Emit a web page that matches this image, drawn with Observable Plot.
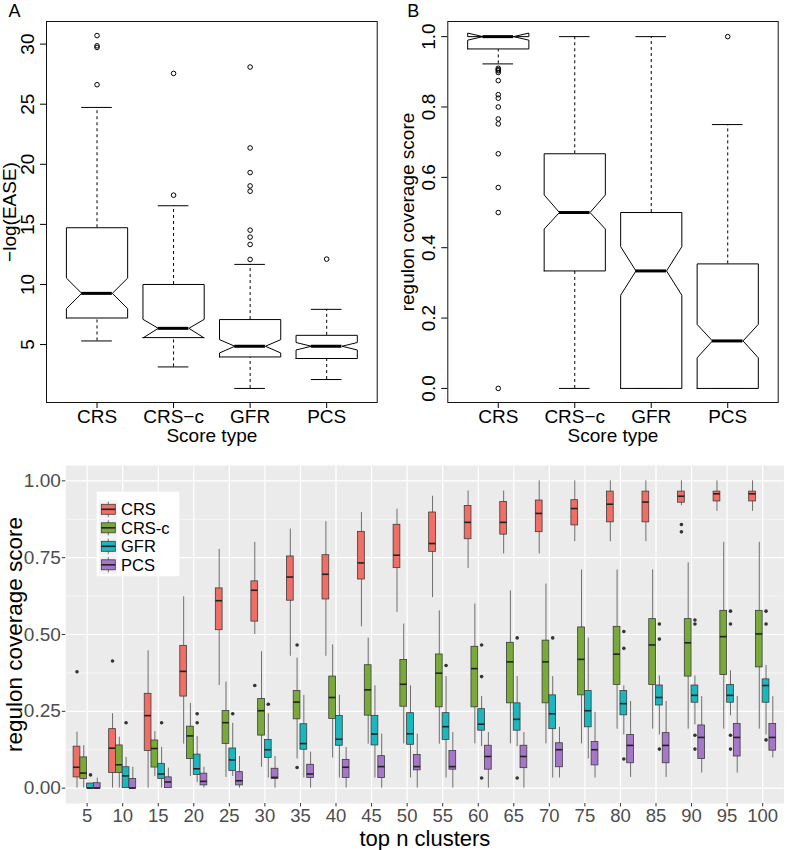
<!DOCTYPE html>
<html><head><meta charset="utf-8">
<script src="https://cdn.jsdelivr.net/npm/d3@7"></script>
<script src="https://cdn.jsdelivr.net/npm/@observablehq/plot@0.6"></script>
<style>
body{margin:0;background:#fff;}
#root{position:relative;width:787px;height:850px;overflow:hidden;background:#fff;font-family:"Liberation Sans",Arial,Helvetica,sans-serif;}
#root svg{position:absolute;}
</style></head><body><div id="root"></div>
<script>
// ---------- shared ----------
const scoreTypes = ["CRS", "CRS\u2212c", "GFR", "PCS"];

// ---------- Panel A: -log(EASE) ----------
const aLow     = [5.30, 3.14, 1.35, 2.09];
const aQ1      = [7.21, 5.58, 3.97, 3.84];
const aNotchLo = [7.99, 5.55, 4.30, 4.55];
const aMedian  = [9.26, 6.35, 4.86, 4.86];
const aNotchHi = [10.53, 7.10, 5.41, 5.17];
const aQ3      = [14.72, 10.0, 7.08, 5.77];
const aHigh    = [24.73, 16.55, 11.67, 7.93];
const aOutliers = [
  [1, 30.71], [1, 29.86], [1, 29.72], [1, 26.62],
  [2, 27.56], [2, 17.43],
  [3, 28.09], [3, 21.36], [3, 19.31], [3, 18.20], [3, 17.76], [3, 14.52], [3, 13.94], [3, 13.33], [3, 12.08],
  [4, 12.11]
];
const aTicks = [5, 10, 15, 20, 25, 30];
const aTickLabels = ["5", "10", "15", "20", "25", "30"];

// ---------- Panel B: regulon coverage score ----------
const bLow     = [0.9225, 0.0, 0.0, 0.0];
const bQ1      = [0.965, 0.334, 0.0, 0.0];
const bNotchLo = [0.99, 0.453, 0.265, 0.087];
const bMedian  = [1.0, 0.5, 0.334, 0.135];
const bNotchHi = [1.01, 0.55, 0.403, 0.182];
const bQ3      = [1.0, 0.667, 0.5, 0.354];
const bHigh    = [1.0, 1.0, 1.0, 0.75];
const bOutliers = [
  [1, 0.910], [1, 0.906], [1, 0.903], [1, 0.898], [1, 0.875], [1, 0.835], [1, 0.825],
  [1, 0.80], [1, 0.766], [1, 0.752], [1, 0.667], [1, 0.571], [1, 0.5], [1, 0.0],
  [4, 1.0]
];
const bTicks = [0, 0.2, 0.4, 0.6, 0.8, 1.0];
const bTickLabels = ["0.0", "0.2", "0.4", "0.6", "0.8", "1.0"];

// ---------- Panel C: by top n clusters ----------
const clusters = ["5","10","15","20","25","30","35","40","45","50","55","60","65","70","75","80","85","90","95","100"];
const groups = ["CRS", "CRS-c", "GFR", "PCS"];
const groupColors = ["#EF6F66", "#78A939", "#1AB8BE", "#A676C8"];
// each row: [lower whisker, Q1, median, Q3, upper whisker]
const crsStats = [
  [0, 0.035, 0.068, 0.135, 0.182], [0, 0.049, 0.13, 0.192, 0.242], [0, 0.121, 0.236, 0.307, 0.447],
  [0.143, 0.298, 0.38, 0.463, 0.623], [0.334, 0.514, 0.61, 0.65, 0.777], [0.50, 0.542, 0.644, 0.673, 0.80],
  [0.429, 0.61, 0.687, 0.754, 0.843], [0.429, 0.614, 0.696, 0.758, 0.867], [0.525, 0.679, 0.733, 0.834, 0.897],
  [0.572, 0.716, 0.758, 0.857, 0.908], [0.62, 0.769, 0.796, 0.897, 0.95], [0.715, 0.81, 0.865, 0.918, 0.967],
  [0.762, 0.825, 0.865, 0.931, 0.967], [0.762, 0.833, 0.894, 0.936, 1.0], [0.802, 0.855, 0.91, 0.937, 1.0],
  [0.802, 0.865, 0.924, 0.965, 1.0], [0.802, 0.865, 0.931, 0.965, 1.0], [0.919, 0.929, 0.95, 0.965, 1.0],
  [0.901, 0.933, 0.958, 0.965, 1.0], [0.901, 0.933, 0.958, 0.965, 1.0]
];
const crscStats = [
  [0, 0.03, 0.049, 0.10, 0.138], [0, 0.049, 0.076, 0.139, 0.166], [0.038, 0.067, 0.129, 0.155, 0.184],
  [0.038, 0.095, 0.17, 0.20, 0.276], [0.035, 0.144, 0.213, 0.251, 0.345], [0.068, 0.171, 0.252, 0.29, 0.444],
  [0.095, 0.224, 0.28, 0.316, 0.423], [0.098, 0.225, 0.295, 0.363, 0.466], [0.143, 0.236, 0.32, 0.40, 0.488],
  [0.144, 0.265, 0.338, 0.417, 0.534], [0.143, 0.263, 0.374, 0.435, 0.577], [0.144, 0.263, 0.389, 0.46, 0.599],
  [0.144, 0.276, 0.411, 0.473, 0.642], [0.144, 0.276, 0.411, 0.48, 0.664], [0.144, 0.302, 0.419, 0.523, 0.71],
  [0.192, 0.336, 0.436, 0.525, 0.71], [0.192, 0.336, 0.466, 0.55, 0.71], [0.192, 0.363, 0.473, 0.55, 0.733],
  [0.192, 0.368, 0.493, 0.577, 0.80], [0.192, 0.393, 0.502, 0.577, 0.80]
];
const gfrStats = [
  [0, 0, 0, 0.015, 0.015], [0, 0, 0.04, 0.068, 0.10], [0, 0.03, 0.046, 0.079, 0.133],
  [0.018, 0.043, 0.063, 0.109, 0.168], [0.038, 0.056, 0.092, 0.129, 0.211], [0.033, 0.098, 0.125, 0.157, 0.242],
  [0.033, 0.125, 0.145, 0.208, 0.302], [0.033, 0.138, 0.159, 0.235, 0.302], [0.033, 0.139, 0.176, 0.235, 0.333],
  [0.033, 0.141, 0.177, 0.244, 0.333], [0.033, 0.157, 0.20, 0.244, 0.363], [0.135, 0.187, 0.208, 0.257, 0.298],
  [0.135, 0.187, 0.224, 0.276, 0.363], [0.033, 0.192, 0.242, 0.302, 0.363], [0.095, 0.198, 0.252, 0.316, 0.488],
  [0.173, 0.237, 0.275, 0.316, 0.333], [0.173, 0.269, 0.295, 0.334, 0.365], [0.206, 0.278, 0.302, 0.334, 0.365],
  [0.235, 0.278, 0.302, 0.336, 0.382], [0.173, 0.278, 0.334, 0.354, 0.399]
];
const pcsStats = [
  [0, 0, 0, 0.016, 0.033], [0, 0, 0, 0.03, 0.068], [0, 0, 0.02, 0.035, 0.065],
  [0, 0.009, 0.022, 0.047, 0.068], [0, 0.009, 0.024, 0.052, 0.103], [0, 0.03, 0.035, 0.063, 0.103],
  [0, 0.033, 0.046, 0.076, 0.117], [0, 0.033, 0.068, 0.092, 0.132], [0, 0.033, 0.07, 0.104, 0.176],
  [0, 0.058, 0.07, 0.108, 0.176], [0, 0.06, 0.07, 0.121, 0.181], [0, 0.06, 0.103, 0.138, 0.181],
  [0, 0.065, 0.103, 0.138, 0.181], [0.033, 0.068, 0.125, 0.146, 0.198], [0.033, 0.074, 0.125, 0.15, 0.247],
  [0.035, 0.081, 0.139, 0.173, 0.282], [0.035, 0.081, 0.139, 0.179, 0.282], [0.049, 0.095, 0.165, 0.204, 0.298],
  [0.049, 0.103, 0.165, 0.209, 0.298], [0.098, 0.122, 0.165, 0.209, 0.298]
];
// outliers: [cluster, value]
const crsOut = [["5", 0.379], ["10", 0.414], ["30", 0.334], ["90", 0.858], ["90", 0.834]];
const crscOut = [["35", 0.466], ["35", 0.067]];
const gfrOut = [
  ["5", 0.043], ["10", 0.213], ["15", 0.213], ["20", 0.242], ["20", 0.213], ["25", 0.242], ["30", 0.273],
  ["55", 0.399], ["60", 0.466], ["60", 0.363], ["60", 0.033], ["65", 0.489], ["65", 0.033], ["70", 0.489],
  ["80", 0.51], ["80", 0.455], ["80", 0.095], ["85", 0.534], ["85", 0.485], ["85", 0.127],
  ["90", 0.547], ["90", 0.534], ["90", 0.172], ["90", 0.127], ["95", 0.576], ["95", 0.534], ["95", 0.172], ["95", 0.127],
  ["100", 0.576], ["100", 0.534], ["100", 0.157]
];
const pcsOut = [];
const cTicks = [0, 0.25, 0.5, 0.75, 1.0];
const cTickLabels = ["0.00", "0.25", "0.50", "0.75", "1.00"];
const cMinor = [0.125, 0.375, 0.625, 0.875];

// ---------- drawing ----------
const FONT = '"Liberation Sans", Arial, Helvetica, sans-serif';
const root = document.getElementById("root");

function rBoxPanel(p) {
  const rows = scoreTypes.map((name, k) => ({
    i: k + 1, lo: p.low[k], q1: p.q1[k], nlo: p.nlo[k], med: p.med[k], nhi: p.nhi[k], q3: p.q3[k], hi: p.high[k]
  }));
  const shape = [[-.4, "q1"], [.4, "q1"], [.4, "nlo"], [.2, "med"], [.4, "nhi"], [.4, "q3"],
                 [-.4, "q3"], [-.4, "nhi"], [-.2, "med"], [-.4, "nlo"], [-.4, "q1"]];
  const poly = rows.flatMap(r => shape.map(([dx, key]) => ({box: r.i, px: r.i + dx, py: r[key]})));
  const svg = Plot.plot({
    width: p.width, height: 450,
    marginLeft: p.ml, marginRight: p.mr, marginTop: 21, marginBottom: 48,
    x: {domain: [0.34, 4.66]},
    y: {domain: p.yDomain},
    style: {fontFamily: FONT, fontSize: "19px", color: "black", background: "transparent", overflow: "visible"},
    marks: [
      Plot.ruleX(rows, {x: "i", y1: "q3", y2: "hi", stroke: "black", strokeWidth: 1, strokeDasharray: "3,3"}),
      Plot.ruleX(rows, {x: "i", y1: "lo", y2: "q1", stroke: "black", strokeWidth: 1, strokeDasharray: "3,3"}),
      Plot.ruleY(rows, {y: "hi", x1: d => d.i - 0.2, x2: d => d.i + 0.2, stroke: "black", strokeWidth: 1}),
      Plot.ruleY(rows, {y: "lo", x1: d => d.i - 0.2, x2: d => d.i + 0.2, stroke: "black", strokeWidth: 1}),
      Plot.line(poly, {x: "px", y: "py", z: "box", fill: "white", stroke: "black", strokeWidth: 1, strokeLinejoin: "miter", curve: "linear"}),
      Plot.ruleY(rows, {y: "med", x1: d => d.i - 0.2, x2: d => d.i + 0.2, stroke: "black", strokeWidth: 3, strokeLinecap: "butt"}),
      Plot.dot(p.outliers, {x: d => d[0], y: d => d[1], r: 2.3, stroke: "black", fill: "none", strokeWidth: 1}),
      Plot.frame({stroke: "#111", strokeWidth: 1}),
      Plot.axisX({ticks: [1, 2, 3, 4], tickFormat: i => scoreTypes[i - 1], tickSize: 6, tickPadding: 1, fontSize: 19, label: null}),
      Plot.axisY({ticks: p.ticks, tickSize: 6, tickFormat: () => "", label: null}),
      Plot.text(p.ticks, {y: d => d, text: (d, k) => p.tickLabels[k], frameAnchor: "left", rotate: -90, dx: -13, textAnchor: "middle", lineAnchor: "bottom", fontSize: 19}),
      Plot.text([p.ylab], {frameAnchor: "left", rotate: -90, dx: p.ylabDx, textAnchor: "middle", lineAnchor: "bottom", fontSize: 19}),
      Plot.text(["Score type"], {frameAnchor: "bottom", dy: 39, textAnchor: "middle", lineAnchor: "bottom", fontSize: 19}),
      Plot.text([p.letter], {frameAnchor: "top-left", dx: p.letterDx, dy: -5, textAnchor: "start", lineAnchor: "bottom", fontSize: 18})
    ]
  });
  svg.style.left = p.left + "px";
  svg.style.top = "0px";
  root.appendChild(svg);
}

rBoxPanel({
  low: aLow, q1: aQ1, nlo: aNotchLo, med: aMedian, nhi: aNotchHi, q3: aQ3, high: aHigh, outliers: aOutliers,
  yDomain: [0.18, 31.88], ticks: aTicks, tickLabels: aTickLabels, ylab: "\u2212log(EASE)", ylabDx: -31,
  letter: "A", letterDx: -38, width: 393, ml: 46, mr: 16.3, left: 0
});
rBoxPanel({
  low: bLow, q1: bQ1, nlo: bNotchLo, med: bMedian, nhi: bNotchHi, q3: bQ3, high: bHigh, outliers: bOutliers,
  yDomain: [-0.04, 1.043], ticks: bTicks, tickLabels: bTickLabels, ylab: "regulon coverage score", ylabDx: -34,
  letter: "B", letterDx: -40.5, width: 394, ml: 54.3, mr: 9.3, left: 393
});

// Panel C
const statSets = [crsStats, crscStats, gfrStats, pcsStats];
const outSets = [crsOut, crscOut, gfrOut, pcsOut];
const dodge = 0.19, half = 0.095;
const cMarks = [
  Plot.frame({fill: "#EBEBEB", stroke: "none"}),
  Plot.ruleY(cMinor, {stroke: "white", strokeWidth: 0.6}),
  Plot.ruleY(cTicks, {stroke: "white", strokeWidth: 1.2}),
  Plot.ruleX(d3.range(clusters.length), {stroke: "white", strokeWidth: 1.2})
];
groups.forEach((g, gi) => {
  const rows = statSets[gi].map((s, ci) => ({xc: ci + (gi - 1.5) * dodge, lo: s[0], q1: s[1], med: s[2], q3: s[3], hi: s[4]}));
  const outs = outSets[gi].map(([c, v]) => ({xc: clusters.indexOf(c) + (gi - 1.5) * dodge, v}));
  cMarks.push(
    Plot.ruleX(rows, {x: "xc", y1: "lo", y2: "hi", stroke: "#6f6f6f", strokeWidth: 1}),
    Plot.rect(rows, {x1: d => d.xc - half, x2: d => d.xc + half, y1: "q1", y2: "q3", fill: groupColors[gi], stroke: "#3c3c3c", strokeWidth: 0.8}),
    Plot.ruleY(rows, {y: "med", x1: d => d.xc - half, x2: d => d.xc + half, stroke: "#222", strokeWidth: 1.6}),
    Plot.dot(outs, {x: "xc", y: "v", r: 1.8, fill: "#333", stroke: "none"})
  );
});
cMarks.push(
  Plot.axisX({ticks: d3.range(clusters.length), tickFormat: k => clusters[k], tickSize: 3.5, tickPadding: 2, fontSize: 18.5, stroke: "#333", fill: "#4D4D4D", label: null}),
  Plot.axisY({ticks: cTicks, tickFormat: (d, k) => cTickLabels[k], tickSize: 3.5, tickPadding: 1.5, fontSize: 19, stroke: "#333", fill: "#4D4D4D", label: null}),
  Plot.text(["regulon coverage score"], {frameAnchor: "left", rotate: -90, dx: -43.5, textAnchor: "middle", lineAnchor: "bottom", fontSize: 22.5}),
  Plot.text(["top n clusters"], {frameAnchor: "bottom", dy: 42, textAnchor: "middle", lineAnchor: "bottom", fontSize: 22})
);
const cSvg = Plot.plot({
  width: 787, height: 400,
  marginLeft: 65.3, marginRight: 3.5, marginTop: 15, marginBottom: 47,
  x: {domain: [-0.6, clusters.length - 0.4]},
  y: {domain: [-0.05, 1.05]},
  style: {fontFamily: FONT, fontSize: "19px", color: "black", background: "transparent", overflow: "visible"},
  marks: cMarks
});
cSvg.style.left = "0px";
cSvg.style.top = "450px";
root.appendChild(cSvg);

// legend (ggplot style)
const rowStep = 18.5;
const lg = d3.select(cSvg).append("g").attr("font-family", FONT).attr("font-size", 16.5).attr("text-anchor", "start");
lg.append("rect").attr("x", 96.7).attr("y", 41.7).attr("width", 82.6).attr("height", 84.5).attr("fill", "white");
groups.forEach((g, k) => {
  const cy = 59.3 + k * rowStep, kx = 99.3;
  lg.append("rect").attr("x", kx).attr("y", cy - 9).attr("width", 18).attr("height", 18).attr("fill", "#F2F2F2");
  lg.append("line").attr("x1", kx + 9).attr("x2", kx + 9).attr("y1", cy - 7.5).attr("y2", cy + 7.5).attr("stroke", "#6f6f6f");
  lg.append("rect").attr("x", kx + 2).attr("y", cy - 5).attr("width", 14).attr("height", 10)
    .attr("fill", groupColors[k]).attr("stroke", "#3c3c3c").attr("stroke-width", 0.8);
  lg.append("line").attr("x1", kx + 2).attr("x2", kx + 16).attr("y1", cy).attr("y2", cy).attr("stroke", "#222").attr("stroke-width", 1.6);
  lg.append("text").attr("x", 121).attr("y", cy).attr("dy", "0.36em").attr("text-anchor", "start").attr("fill", "black").text(g);
});
</script></body></html>
